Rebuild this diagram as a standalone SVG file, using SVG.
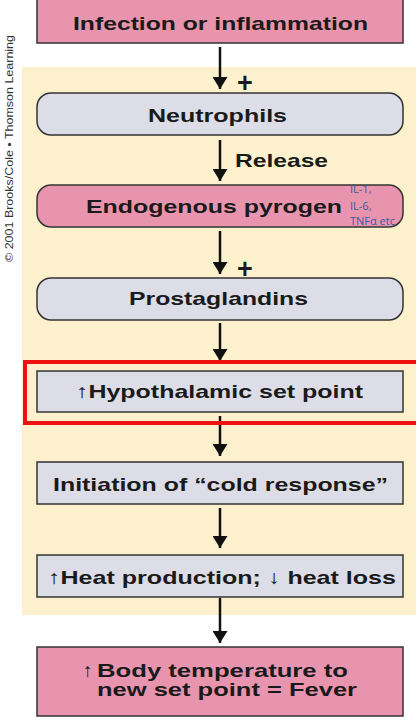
<svg xmlns="http://www.w3.org/2000/svg" width="416" height="721" viewBox="0 0 416 721">
<defs>
<marker id="ah" viewBox="0 0 12 15" refX="12" refY="7.5" markerWidth="12" markerHeight="15" markerUnits="userSpaceOnUse" orient="auto">
<path d="M0,0 L12,7.5 L0,15 z" fill="#111"/>
</marker>
<style>
.pink{fill:#e994ae;stroke:#333;stroke-width:1.5}
.gray{fill:#dcdde6;stroke:#333;stroke-width:1.5}
.t{font-family:"Liberation Sans",Arial,sans-serif;font-weight:bold;font-size:19px;fill:#1a1a1a;text-anchor:middle}
.lbl{font-family:"Liberation Sans",Arial,sans-serif;font-weight:bold;font-size:19px;fill:#1a1a1a}
.plus{font-family:"Liberation Sans",Arial,sans-serif;font-weight:bold;font-size:27px;fill:#1a1a1a;text-anchor:middle}
.cn{stroke:#111;stroke-width:2.5;fill:none;marker-end:url(#ah)}
.blue{font-family:"Open Sans","Liberation Sans",sans-serif;font-size:11px;fill:#2e5fa8}
</style>
</defs>
<rect width="416" height="721" fill="#ffffff"/>
<rect x="22" y="67" width="394" height="548" fill="#fdf1cd"/>
<text transform="translate(13,262) rotate(-90)" font-family="'Liberation Sans',Arial,sans-serif" font-size="11" fill="#333" textLength="227" lengthAdjust="spacingAndGlyphs">© 2001 Brooks/Cole • Thomson Learning</text>
<g id="connectors">
<line class="cn" x1="220" y1="47" x2="220" y2="89"/>
<line class="cn" x1="220" y1="140" x2="220" y2="181"/>
<line class="cn" x1="220" y1="231" x2="220" y2="274"/>
<line class="cn" x1="220" y1="323" x2="220" y2="361"/>
<line class="cn" x1="220" y1="416" x2="220" y2="456"/>
<line class="cn" x1="220" y1="508" x2="220" y2="548"/>
<line class="cn" x1="220" y1="598" x2="220" y2="643"/>
<text class="plus" x="245" y="92">+</text>
<text class="lbl" x="235" y="167" textLength="93" lengthAdjust="spacingAndGlyphs">Release</text>
<text class="plus" x="245" y="278">+</text>
</g>
<g id="n1"><rect class="pink" x="37" y="-2" width="366" height="45"/><text class="t" x="220.5" y="30" textLength="295" lengthAdjust="spacingAndGlyphs">Infection or inflammation</text></g>
<g id="n2"><rect class="gray" x="37" y="93" width="366" height="42" rx="14"/><text class="t" x="217.5" y="122" textLength="139" lengthAdjust="spacingAndGlyphs">Neutrophils</text></g>
<g id="n3"><rect class="pink" x="37" y="185" width="366" height="42" rx="14"/><text class="t" x="214" y="213" textLength="256" lengthAdjust="spacingAndGlyphs">Endogenous pyrogen</text>
<text class="blue" x="350" y="193">IL-1,</text><text class="blue" x="350" y="210">IL-6,</text><text class="blue" x="350" y="225" textLength="45" lengthAdjust="spacingAndGlyphs">TNFα etc</text></g>
<g id="n4"><rect class="gray" x="37" y="278" width="366" height="42" rx="14"/><text class="t" x="218.5" y="305" textLength="179" lengthAdjust="spacingAndGlyphs">Prostaglandins</text></g>
<rect id="highlight" x="25" y="362" width="395" height="61" fill="none" stroke="#ee1111" stroke-width="4"/>
<g id="n5"><rect class="gray" x="37" y="371" width="366" height="41"/><text class="t" x="219.5" y="398" textLength="287" lengthAdjust="spacingAndGlyphs">↑Hypothalamic set point</text></g>
<g id="n6"><rect class="gray" x="37" y="462" width="366" height="42"/><text class="t" x="220.5" y="491" textLength="335" lengthAdjust="spacingAndGlyphs">Initiation of “cold response”</text></g>
<g id="n7"><rect class="gray" x="37" y="555" width="366" height="42"/><text class="t" x="222" y="584" textLength="348" lengthAdjust="spacingAndGlyphs">↑Heat production; ↓ heat loss</text></g>
<g id="n8"><rect class="pink" x="37" y="647" width="366" height="69"/>
<text class="lbl" x="83" y="677" font-size="20">↑</text>
<text class="lbl" x="97" y="677" font-size="20" textLength="251" lengthAdjust="spacingAndGlyphs">Body temperature to</text>
<text class="lbl" x="97" y="696" font-size="20" textLength="260" lengthAdjust="spacingAndGlyphs">new set point = Fever</text></g>
</svg>
